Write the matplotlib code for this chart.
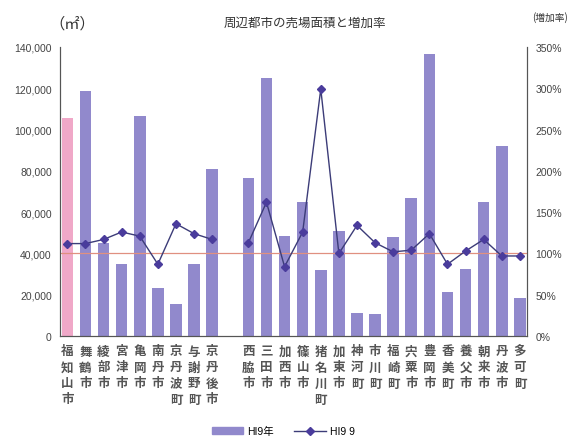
import numpy as np
import matplotlib.pyplot as plt
from matplotlib.patches import Patch
from matplotlib.lines import Line2D

plt.rcParams['font.family'] = ['Noto Sans CJK JP', 'DejaVu Sans']

# 京都側・兵庫側の市町（間に一つ空きを入れる）
kyoto = ["福知山市", "舞鶴市", "綾部市", "宮津市", "亀岡市", "南丹市",
         "京丹波町", "与謝野町", "京丹後市"]
hyogo = ["西脇市", "三田市", "加西市", "篠山市", "猪名川町", "加東市",
         "神河町", "市川町", "福崎町", "宍粟市", "豊岡市", "香美町",
         "養父市", "朝来市", "丹波市", "多可町"]

# 売場面積 H19年 (㎡)
area_kyoto = [105600, 118500, 44900, 34700, 106300, 23300, 15800, 34700, 81100]
area_hyogo = [76700, 125000, 48400, 64900, 31800, 51000, 11100, 10500,
              48000, 66700, 136500, 21500, 32600, 64900, 92200, 18600]

# 増加率 (%)
rate_kyoto = [112, 112, 117, 126, 121, 87, 136, 124, 117]
rate_hyogo = [113, 162, 84, 126, 299, 100, 134, 113, 102, 104, 124, 87,
              103, 117, 97, 97]

names = kyoto + [""] + hyogo
area = np.array(area_kyoto + [np.nan] + area_hyogo, dtype=float)
rate = np.array(rate_kyoto + [np.nan] + rate_hyogo, dtype=float)
x = np.arange(len(names))

bar_col = "#9189cc"
colors = [bar_col] * len(names)
colors[0] = "#f0a8c8"  # 福知山市

num_font = ['Liberation Sans', 'DejaVu Sans']

fig = plt.figure(figsize=(5.78, 4.39), dpi=100)
ax = fig.add_axes([0.104, 0.232, 0.808, 0.659])
ax2 = ax.twinx()

ax.bar(x, np.nan_to_num(area), width=0.64, color=colors, edgecolor="none", zorder=2)
ax.set_ylim(0, 140000)
ax.set_xlim(-0.4, len(names) - 0.6)
ax.set_yticks(np.arange(0, 140001, 20000))
ax.set_yticklabels([f"{v:,}" for v in range(0, 140001, 20000)], family=num_font)

ax2.axhline(100, color="#e09080", lw=0.9, zorder=1)
ax2.plot(x, rate, color="#3c3c78", lw=1.0, marker="D", ms=4,
         mfc="#4a3c9c", mec="#4a3c9c", zorder=3)
ax2.set_ylim(0, 350)
ax2.set_yticks(np.arange(0, 351, 50))
ax2.set_yticklabels([f"{v}%" for v in range(0, 351, 50)], family=num_font)

for a in (ax, ax2):
    a.spines["top"].set_visible(False)
    a.tick_params(axis="y", length=0, labelsize=7.5, labelcolor="#444444", pad=6)
    for s in ("left", "right", "bottom"):
        a.spines[s].set_color("#555555")
        a.spines[s].set_linewidth(0.8)

ax.set_xticks(x)
ax.set_xticklabels(["\n".join(n) for n in names], fontsize=9, color="#555555",
                   fontweight="bold", linespacing=1.3, va="top")
ax.tick_params(axis="x", length=0, pad=6)

fig.text(0.528, 0.948, "周辺都市の売場面積と増加率", ha="center", va="center",
         fontsize=9, color="#333333")
fig.text(0.125, 0.946, "（㎡）", ha="center", va="center", fontsize=11, color="#333333")
fig.text(0.952, 0.96, "(増加率)", ha="center", va="center", fontsize=7, color="#333333")

handles = [Patch(color=bar_col, label="HI9年"),
           Line2D([], [], color="#3c3c78", lw=1.0, marker="D", ms=4,
                  mfc="#4a3c9c", mec="#4a3c9c", label="HI9 9")]
fig.legend(handles=handles, loc="center", bbox_to_anchor=(0.49, 0.015), ncol=2,
           frameon=False, fontsize=7.5, handlelength=3, columnspacing=2,
           handletextpad=0.4, prop={'family': num_font + ['Noto Sans CJK JP'], 'size': 7.5})

fig.savefig("out.png", dpi=100)
